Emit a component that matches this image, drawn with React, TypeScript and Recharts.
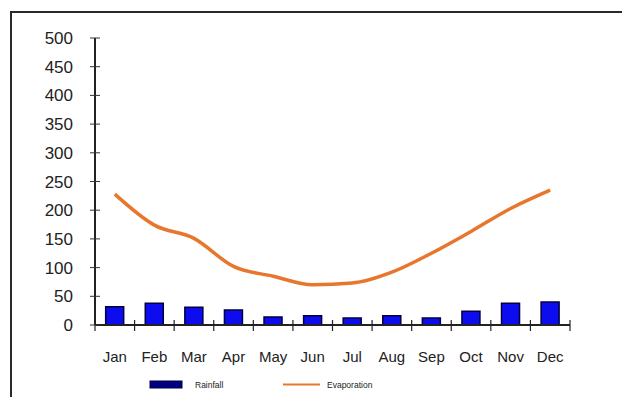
import React from "react";
import {
  ComposedChart,
  Bar,
  Line,
  XAxis,
  YAxis,
  Legend,
} from "recharts";

const months = ["Jan", "Feb", "Mar", "Apr", "May", "Jun", "Jul", "Aug", "Sep", "Oct", "Nov", "Dec"];
const rainfall = [32, 38, 31, 26, 14, 16, 12, 16, 12, 24, 38, 40];
const evaporation = [228, 174, 151, 102, 85, 70, 73, 92, 125, 163, 203, 235];
const yTicks = [0, 50, 100, 150, 200, 250, 300, 350, 400, 450, 500];

const data = months.map((m, i) => ({ month: m, rainfall: rainfall[i], evaporation: evaporation[i] }));

const W = 630;
const H = 405;
const M = { top: 38, right: 60, left: 0, bottom: 50 };
const Y_W = 95;
const PLOT_W = W - M.left - M.right - Y_W;
const HALF_BAND = PLOT_W / months.length / 2;

const FONT = "Arial, 'Liberation Sans', sans-serif";

const XTick = (props: any) => {
  const { x, y, payload, index } = props;
  const left = x - HALF_BAND;
  return (
    <g>
      <line x1={left} x2={left} y1={y - 5} y2={y + 6} stroke="#222" strokeWidth={1.2} />
      {index === months.length - 1 ? (
        <line x1={x + HALF_BAND} x2={x + HALF_BAND} y1={y - 5} y2={y + 6} stroke="#222" strokeWidth={1.2} />
      ) : null}
      <text x={x} y={y + 37} textAnchor="middle" fontSize={15} fontFamily={FONT} fill="#222">
        {payload.value}
      </text>
    </g>
  );
};

const YTick = (props: any) => {
  const { x, y, payload } = props;
  return (
    <g>
      <line x1={x - 5} x2={x + 5} y1={y} y2={y} stroke="#333" strokeWidth={1} />
      <text x={x - 22} y={y + 6} textAnchor="end" fontSize={17} fontFamily={FONT} fill="#222">
        {payload.value}
      </text>
    </g>
  );
};

const LegendContent = () => (
  <svg width={W} height={20} style={{ display: "block" }}>
    <rect x={150} y={3} width={32} height={7} fill="#000080" stroke="#000040" strokeWidth={1} />
    <text x={195} y={10} fontSize={8.5} fontFamily={FONT} fill="#222">Rainfall</text>
    <line x1={283} x2={320} y1={6.5} y2={6.5} stroke="#E8772E" strokeWidth={2} />
    <text x={327} y={10} fontSize={8.5} fontFamily={FONT} fill="#222">Evaporation</text>
  </svg>
);

export default function App() {
  return (
    <div style={{ position: "relative", width: W, height: H, margin: -8, overflow: "hidden", background: "#fff" }}>
      <div
        style={{
          position: "absolute",
          left: 10,
          top: 11,
          width: 660,
          height: 440,
          border: "2px solid #2a2a2a",
          boxSizing: "border-box",
        }}
      />
      <div style={{ position: "absolute", left: 0, top: 0 }}>
        <ComposedChart width={W} height={H} data={data} margin={M} barCategoryGap="27%">
          <XAxis
            dataKey="month"
            xAxisId="b"
            height={30}
            tickSize={0}
            tickMargin={0}
            axisLine={{ stroke: "#222", strokeWidth: 2 }}
            tick={<XTick />}
            interval={0}
          />
          <XAxis dataKey="month" xAxisId="t" orientation="top" height={0} tick={false} tickLine={false} axisLine={{ stroke: "#222", strokeWidth: 2 }} />
          <YAxis
            yAxisId="l"
            width={Y_W}
            domain={[0, 500]}
            ticks={yTicks}
            interval={0}
            tickSize={0}
            tickMargin={0}
            axisLine={{ stroke: "#222", strokeWidth: 2 }}
            tick={<YTick />}
          />
          <YAxis yAxisId="r" orientation="right" width={0} domain={[0, 500]} tick={false} tickLine={false} axisLine={{ stroke: "#222", strokeWidth: 2 }} />
          <Bar dataKey="rainfall" xAxisId="b" yAxisId="l" fill="#0c0cee" stroke="#000040" strokeWidth={1.5} isAnimationActive={false} />
          <Line
            dataKey="evaporation"
            xAxisId="b"
            yAxisId="l"
            type="monotone"
            stroke="#E8772E"
            strokeWidth={3.5}
            dot={false}
            activeDot={false}
            isAnimationActive={false}
          />
          <Legend
            layout="horizontal"
            verticalAlign="middle"
            align="center"
            content={<LegendContent />}
            wrapperStyle={{ position: "absolute", top: 378, left: 0, width: W }}
          />
        </ComposedChart>
      </div>
    </div>
  );
}
